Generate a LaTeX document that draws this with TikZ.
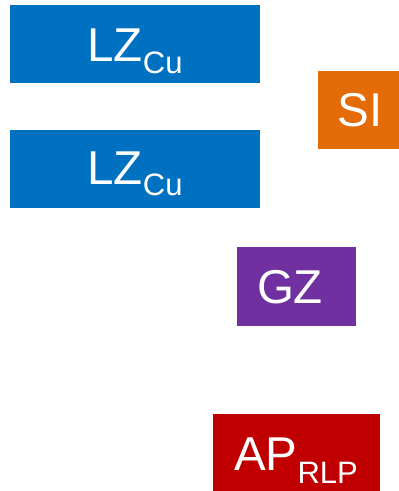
\documentclass[tikz,border=0pt]{standalone}
\usepackage{fontspec}
\setmainfont{Liberation Sans}
\definecolor{cblue}{HTML}{0070C0}
\definecolor{corange}{HTML}{E36C09}
\definecolor{cpurple}{HTML}{7030A0}
\definecolor{cred}{HTML}{C00000}
\tikzset{
  boxn/.style={rectangle, inner sep=0pt, draw=none},
  txt/.style={text=white, inner sep=0pt, anchor=base, font=\fontsize{47.5}{47.5}\selectfont},
}
\newcommand{\mysub}[2]{\raisebox{-#1}{\fontsize{31}{31}\selectfont #2}}
\begin{document}
\begin{tikzpicture}[x=1pt,y=-1pt]
\useasboundingbox (0,0) rectangle (399,491);
\node[boxn, fill=cblue, minimum width=250pt, minimum height=77.7pt] (lz1) at (135,43.85) {};
\node[txt] (lz1t) at (135,61.7) {LZ\mysub{11.6pt}{Cu}};
\node[boxn, fill=corange, minimum width=81pt, minimum height=77.7pt] (si) at (358.5,109.85) {};
\node[txt] (sit) at (360,126.7) {SI};
\node[boxn, fill=cblue, minimum width=250pt, minimum height=77.7pt] (lz2) at (135,168.85) {};
\node[txt] (lz2t) at (135,184) {LZ\mysub{11.6pt}{Cu}};
\node[boxn, fill=cpurple, minimum width=119pt, minimum height=78.7pt] (gz) at (296.5,286.35) {};
\node[txt] (gzt) at (290,303.5) {GZ};
\node[boxn, fill=cred, minimum width=167pt, minimum height=76.7pt] (ap) at (296.5,452.35) {};
\node[txt] (apt) at (296,470.7) {AP\mysub{12.6pt}{RLP}};
\end{tikzpicture}
\end{document}
